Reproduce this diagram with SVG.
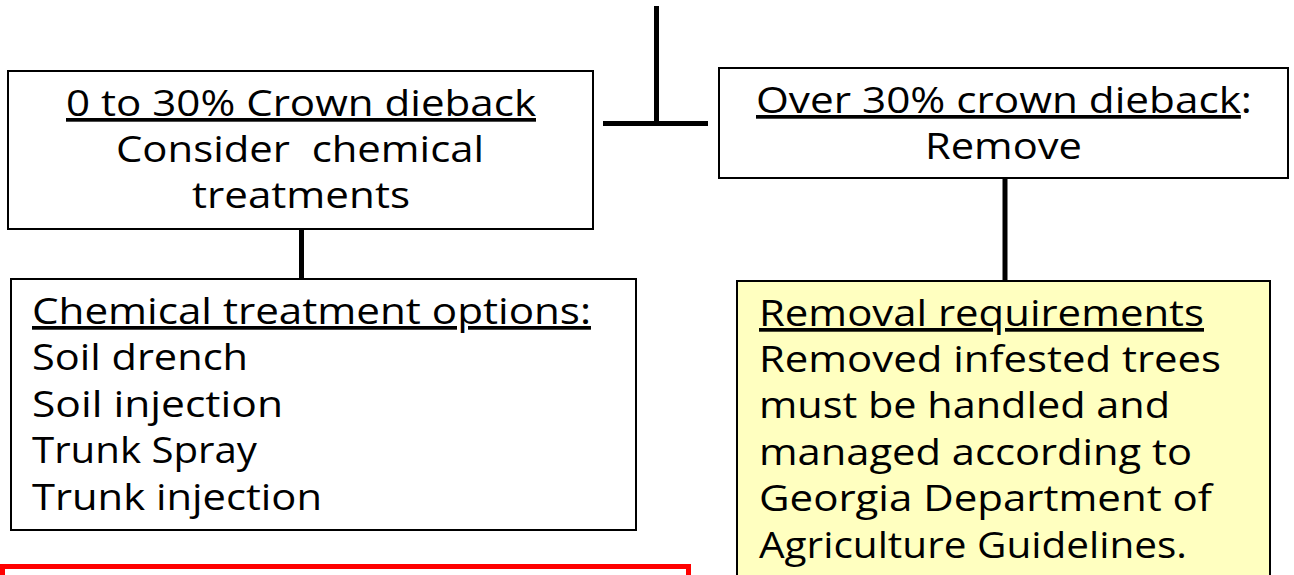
<svg xmlns="http://www.w3.org/2000/svg" width="1294" height="575" viewBox="0 0 1294 575">
  <style>
    .box { fill: #ffffff; stroke: #000000; stroke-width: 2; }
    .yellow { fill: #ffffc0; }
    .red { fill: #ffffff; stroke: #ff0000; stroke-width: 5; }
    .conn { stroke: #000000; stroke-width: 5; fill: none; }
    text { font-family: "Open Sans", "Liberation Sans", sans-serif; font-size: 37px; fill: #000000; }
    .c { text-anchor: middle; }
    .u { text-decoration: underline; }
  </style>
  <rect width="1294" height="575" fill="#ffffff"/>
  <g id="connectors">
    <line class="conn" x1="656.5" y1="6" x2="656.5" y2="123.5"/>
    <line class="conn" x1="603" y1="123.5" x2="708" y2="123.5"/>
    <line class="conn" x1="301.5" y1="229" x2="301.5" y2="280"/>
    <line class="conn" x1="1005" y1="178" x2="1005" y2="281"/>
  </g>
  <g id="node-low-dieback">
    <rect class="box" x="8" y="71" width="585" height="158"/>
    <text class="c u" x="301" y="116" textLength="470" lengthAdjust="spacingAndGlyphs">0 to 30% Crown dieback</text>
    <text class="c" x="300" y="162" textLength="368" lengthAdjust="spacingAndGlyphs" xml:space="preserve">Consider  chemical</text>
    <text class="c" x="301" y="208" textLength="218" lengthAdjust="spacingAndGlyphs">treatments</text>
  </g>
  <g id="node-high-dieback">
    <rect class="box" x="719" y="68" width="569" height="110"/>
    <text x="756" y="113" textLength="496" lengthAdjust="spacingAndGlyphs"><tspan class="u">Over 30% crown dieback</tspan>:</text>
    <text class="c" x="1003.5" y="159" textLength="157" lengthAdjust="spacingAndGlyphs">Remove</text>
  </g>
  <g id="node-chemical-options">
    <rect class="box" x="11" y="279" width="625" height="251"/>
    <text class="u" x="32" y="324" textLength="559" lengthAdjust="spacingAndGlyphs">Chemical treatment options:</text>
    <text x="32" y="370" textLength="216" lengthAdjust="spacingAndGlyphs">Soil drench</text>
    <text x="32" y="417" textLength="251" lengthAdjust="spacingAndGlyphs">Soil injection</text>
    <text x="32" y="463" textLength="225" lengthAdjust="spacingAndGlyphs">Trunk Spray</text>
    <text x="32" y="510" textLength="290" lengthAdjust="spacingAndGlyphs">Trunk injection</text>
  </g>
  <g id="node-removal-requirements">
    <rect class="box yellow" x="737" y="281" width="533" height="310"/>
    <text class="u" x="759" y="326" textLength="445" lengthAdjust="spacingAndGlyphs">Removal requirements</text>
    <text x="759" y="372" textLength="462" lengthAdjust="spacingAndGlyphs">Removed infested trees</text>
    <text x="759" y="418" textLength="411" lengthAdjust="spacingAndGlyphs">must be handled and</text>
    <text x="759" y="465" textLength="433" lengthAdjust="spacingAndGlyphs">managed according to</text>
    <text x="759" y="511" textLength="453" lengthAdjust="spacingAndGlyphs">Georgia Department of</text>
    <text x="759" y="558" textLength="428" lengthAdjust="spacingAndGlyphs">Agriculture Guidelines.</text>
  </g>
  <g id="node-red-box">
    <rect class="red" x="2.5" y="566.5" width="686" height="30"/>
  </g>
</svg>
